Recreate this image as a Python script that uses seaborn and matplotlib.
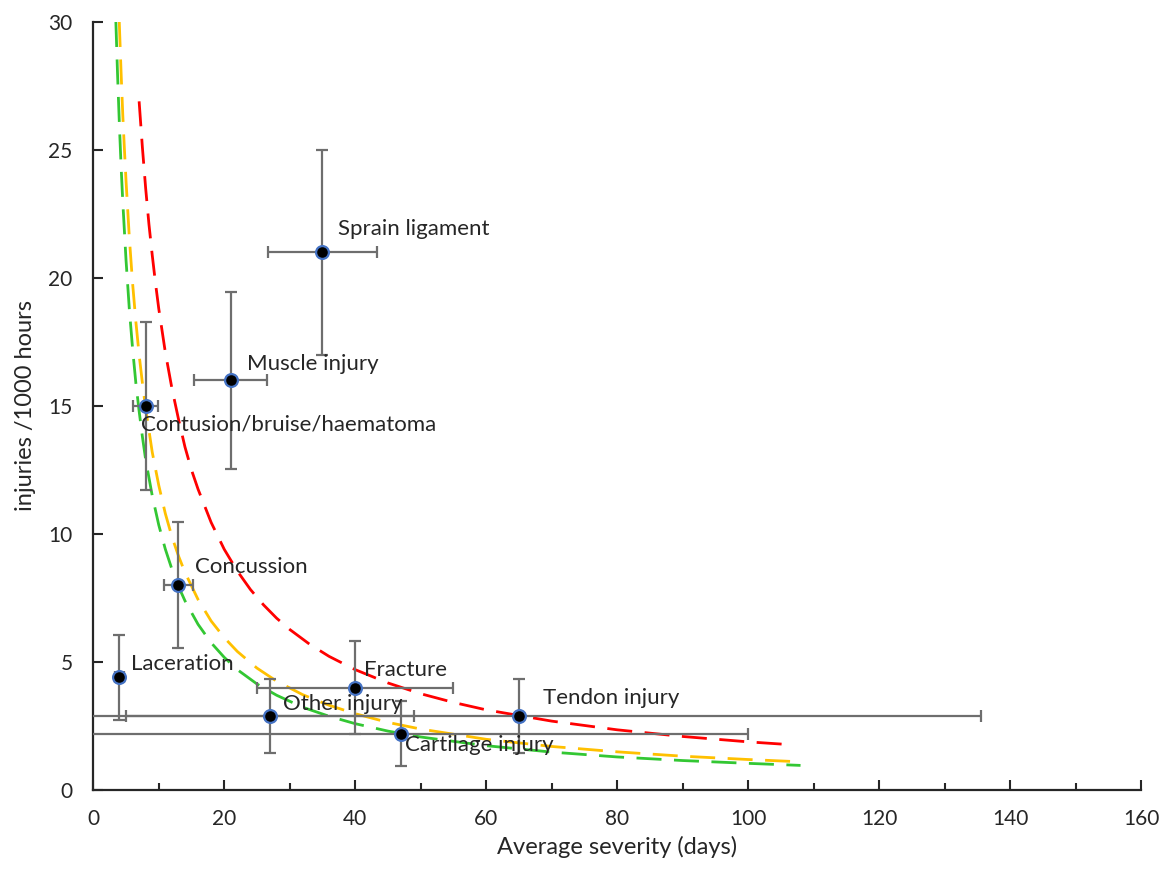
import matplotlib
matplotlib.use("Agg")
import matplotlib.pyplot as plt
import seaborn as sns
import pandas as pd

# injury types: severity (days), incidence (/1000 h) and their error bars
injury = ["Sprain ligament", "Muscle injury", "Contusion/bruise/haematoma", "Concussion",
          "Laceration", "Fracture", "Other injury", "Cartilage injury", "Tendon injury"]
severity = [35, 21, 8, 13, 4, 40, 27, 47, 65]
severity_err = [8.3, 5.6, 1.9, 2.2, 0.7, 15, 22, 53, 70.5]
incidence = [21, 16, 15, 8, 4.4, 4.0, 2.9, 2.2, 2.9]
incidence_err = [4.0, 3.45, 3.3, 2.45, 1.65, 1.8, 1.45, 1.27, 1.45]

# label offsets in points (dx, dy)
label_dx = [11, 11.5, -3.5, 12, 8, 6.5, 9.5, 3, 17]
label_dy = [17, 12, -13, 13, 9.5, 13, 8.5, -8, 13]

# dashed iso-burden curves
red_x = [7, 7.5, 8, 8.5, 9, 9.5, 10, 11, 12, 13, 14, 15, 16, 18, 20, 22, 24, 26, 28, 30, 33,
         36, 40, 45, 50, 55, 60, 70, 80, 90, 100, 107]
red_y = [26.9, 25.1, 23.5, 22.1, 20.9, 19.8, 18.8, 17.1, 15.7, 14.5, 13.4, 12.5, 11.75, 10.45,
         9.4, 8.55, 7.83, 7.23, 6.71, 6.27, 5.7, 5.22, 4.7, 4.18, 3.76, 3.42, 3.13, 2.69, 2.35,
         2.09, 1.88, 1.76]
orange_x = [3.97, 4.25, 4.5, 4.75, 5, 5.5, 6, 6.5, 7, 7.5, 8, 9, 10, 11, 12, 13, 14, 16, 18,
            20, 22, 25, 28, 32, 36, 40, 45, 50, 60, 70, 80, 90, 100, 108]
orange_y = [30, 28, 26.4, 25.05, 23.8, 21.6, 19.8, 18.3, 17, 15.9, 14.9, 13.2, 11.9, 10.8, 9.9,
            9.15, 8.5, 7.44, 6.6, 5.95, 5.41, 4.76, 4.25, 3.72, 3.31, 2.98, 2.64, 2.38, 1.98,
            1.7, 1.49, 1.32, 1.19, 1.1]
green_x = [3.45, 3.7, 4, 4.25, 4.5, 5, 5.5, 6, 6.5, 7, 7.5, 8, 9, 10, 11, 12, 13, 14, 16, 18,
           20, 22, 25, 28, 32, 36, 40, 45, 50, 60, 70, 80, 90, 100, 108]
green_y = [30, 28, 25.9, 24.35, 23, 20.7, 18.8, 17.25, 15.9, 14.8, 13.8, 12.9, 11.5, 10.35,
           9.41, 8.63, 7.96, 7.39, 6.47, 5.75, 5.18, 4.7, 4.14, 3.7, 3.23, 2.88, 2.59, 2.3,
           2.07, 1.73, 1.48, 1.29, 1.15, 1.04, 0.96]

sns.set_style("ticks")
plt.rcParams['font.family'] = ['Lato', 'DejaVu Sans']

fig = plt.figure(figsize=(11.66, 8.76), dpi=100)
ax = fig.add_axes([0.08, 0.0982, 0.8986, 0.8767])

dash = (0, (9, 4.5))
for xs, ys, col in [(red_x, red_y, "#FF0000"), (orange_x, orange_y, "#FFC000"),
                    (green_x, green_y, "#33C733")]:
    sns.lineplot(x=xs, y=ys, ax=ax, color=col, linewidth=2.0, linestyle=dash,
                 sort=False, zorder=2)

ax.errorbar(severity, incidence, xerr=severity_err, yerr=incidence_err, fmt="none",
            ecolor="#6E6E6E", elinewidth=1.6, capsize=4, capthick=1.6, zorder=3)

df = pd.DataFrame({"severity": severity, "incidence": incidence, "injury": injury})
sns.scatterplot(data=df, x="severity", y="incidence", ax=ax, color="black", s=85,
                edgecolor="#4472C4", linewidth=1.6, zorder=4)

for name, x, y, dx, dy in zip(injury, severity, incidence, label_dx, label_dy):
    ax.annotate(name, (x, y), xytext=(dx, dy), textcoords="offset points",
                fontsize=16, va="center", ha="left", zorder=5)

ax.set_xlim(0, 160)
ax.set_ylim(0, 30)
ax.set_xticks(range(0, 161, 20))
ax.set_xticks(range(10, 160, 20), minor=True)
ax.set_yticks(range(0, 31, 5))
ax.tick_params(axis="both", which="major", direction="in", length=7, width=1.5,
               labelsize=15)
ax.tick_params(axis="y", which="major", pad=15)
ax.tick_params(axis="x", which="major", pad=14)
ax.tick_params(axis="x", which="minor", direction="in", length=5, width=1.5)
sns.despine(ax=ax)
for sp in ["left", "bottom"]:
    ax.spines[sp].set_linewidth(1.6)

ax.set_xlabel("Average severity (days)", fontsize=17, labelpad=5)
ax.set_ylabel("injuries /1000 hours", fontsize=17, labelpad=9)

fig.savefig("out.png", dpi=100)
